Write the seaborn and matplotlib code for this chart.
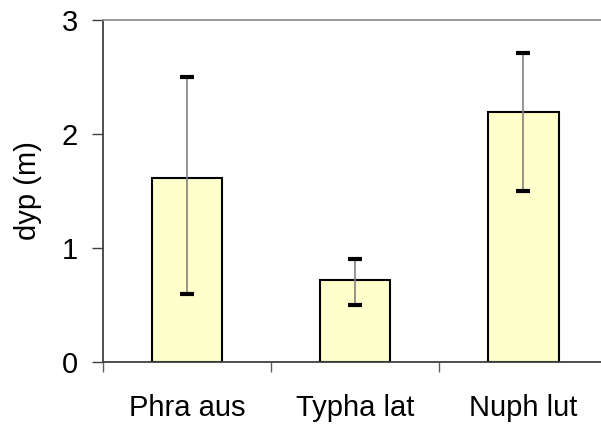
import numpy as np
import pandas as pd
import seaborn as sns
import matplotlib.pyplot as plt
from matplotlib.ticker import FixedLocator

# data
species = ["Phra aus", "Typha lat", "Nuph lut"]
dyp_mean = [1.61, 0.72, 2.19]
dyp_low = [0.60, 0.50, 1.50]
dyp_high = [2.50, 0.90, 2.71]

df = pd.DataFrame({"species": species, "dyp": dyp_mean})

sns.set_style("white")
plt.rcParams["font.family"] = ["Liberation Sans", "DejaVu Sans"]
plt.rcParams["text.color"] = "black"
plt.rcParams["axes.labelcolor"] = "black"
plt.rcParams["xtick.labelcolor"] = "black"
plt.rcParams["ytick.labelcolor"] = "black"

fig = plt.figure(figsize=(6.01, 4.25), dpi=100)
ax = fig.add_axes([0.1714, 0.148, 0.839, 0.805])

sns.barplot(data=df, x="species", y="dyp", color="#FFFFCC", width=0.42,
            edgecolor="black", linewidth=1.5, errorbar=None, saturation=1, ax=ax)

x = np.arange(len(species))
mean = np.array(dyp_mean)
yerr = [mean - np.array(dyp_low), np.array(dyp_high) - mean]
_, caps, _ = ax.errorbar(x, mean, yerr=yerr, fmt="none", ecolor="#808080",
                         elinewidth=1.2, capsize=5, capthick=3)
for c in caps:
    c.set_markeredgecolor("black")
    c.set_markerfacecolor("black")

ax.set_xlim(-0.5, 2.5)
ax.set_ylim(0, 3)
ax.set_yticks([0, 1, 2, 3])
ax.set_xlabel("")
ax.set_ylabel("dyp (m)", fontsize=21, labelpad=14, color="black")

ax.tick_params(axis="y", which="major", direction="out", length=8, width=1,
               color="#404040", labelsize=21, labelcolor="black", pad=10, left=True)
ax.tick_params(axis="x", which="major", length=0, labelsize=21,
               labelcolor="black", pad=23)
ax.xaxis.set_minor_locator(FixedLocator([-0.5, 0.5, 1.5]))
ax.tick_params(axis="x", which="minor", direction="out", length=7.5, width=1,
               color="#606060", bottom=True)

for side in ["left", "bottom"]:
    ax.spines[side].set_color("#404040")
    ax.spines[side].set_linewidth(1.3)
ax.spines["top"].set_color("#909090")
ax.spines["top"].set_linewidth(1.3)
ax.spines["right"].set_visible(False)

fig.savefig("out.png", dpi=100)
